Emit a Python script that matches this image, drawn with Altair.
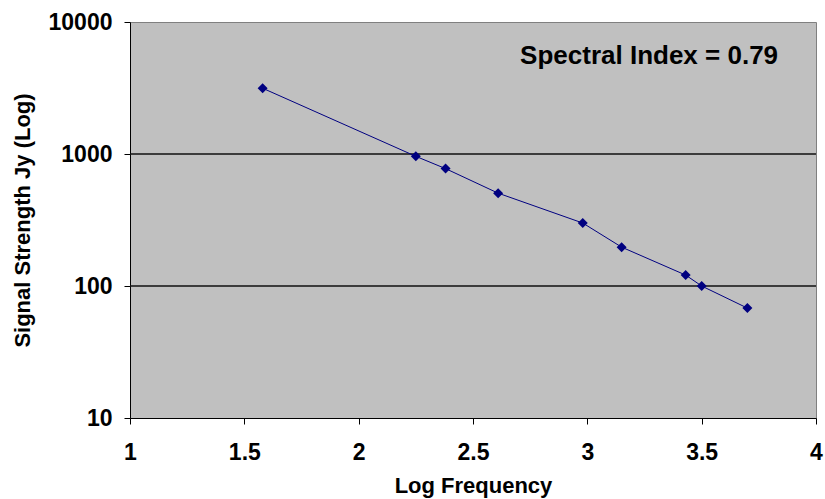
import altair as alt
import pandas as pd

log_freq = [1.58, 2.25, 2.38, 2.61, 2.98, 3.15, 3.43, 3.50, 3.70]
signal_jy = [3150, 960, 775, 505, 300, 197, 121, 100, 68]
grid_values = [100, 1000]
x_ticks = [1, 1.5, 2, 2.5, 3, 3.5, 4]
y_ticks = [10, 100, 1000, 10000]
annotation = "Spectral Index = 0.79"

df = pd.DataFrame({"freq": log_freq, "jy": signal_jy})
grid_df = pd.DataFrame({"g": grid_values})
ann_df = pd.DataFrame({"t": [annotation], "x": [3.27], "y": [5500]})

FONT = "Liberation Sans"
NAVY = "#000080"

xscale = alt.Scale(domain=[1, 4], nice=False, zero=False)
yscale = alt.Scale(type="log", domain=[10, 10000], nice=False)

base = alt.Chart(df)

grid = alt.Chart(grid_df).mark_rule(color="#111111", strokeWidth=1.5).encode(
    y=alt.Y("g:Q", scale=yscale)
)

line = base.mark_line(color=NAVY, strokeWidth=1).encode(
    x=alt.X(
        "freq:Q",
        scale=xscale,
        axis=alt.Axis(
            title="Log Frequency",
            values=x_ticks,
            format="~g",
            grid=False,
            labelFlush=False,
            tickSize=6,
            tickColor="black",
            domainColor="black",
            labelFont=FONT,
            labelFontSize=23,
            labelFontWeight="bold",
            labelColor="black",
            labelPadding=17,
            titleFont=FONT,
            titleFontSize=22,
            titleFontWeight="bold",
            titleColor="black",
            titlePadding=11,
        ),
    ),
    y=alt.Y(
        "jy:Q",
        scale=yscale,
        axis=alt.Axis(
            title="Signal Strength Jy (Log)",
            values=y_ticks,
            format="d",
            grid=False,
            tickSize=6,
            tickColor="black",
            domainColor="black",
            labelFont=FONT,
            labelFontSize=23,
            labelFontWeight="bold",
            labelColor="black",
            labelPadding=12,
            titleFont=FONT,
            titleFontSize=22,
            titleFontWeight="bold",
            titleColor="black",
            titleBaseline="middle",
            titleX=-108,
            titleY=198,
        ),
    ),
)

points = base.mark_point(
    shape="diamond", filled=True, color=NAVY, size=100, opacity=1
).encode(x=alt.X("freq:Q", scale=xscale), y=alt.Y("jy:Q", scale=yscale))

text = alt.Chart(ann_df).mark_text(
    font=FONT, fontSize=26, fontWeight="bold", color="black", align="center",
    baseline="middle"
).encode(
    x=alt.X("x:Q", scale=xscale),
    y=alt.Y("y:Q", scale=yscale),
    text="t:N",
)

chart = (
    alt.layer(grid, line, points, text)
    .properties(
        width=686,
        height=396,
        autosize="none",
        padding={"left": 130, "top": 22, "right": 9, "bottom": 81},
        background="white",
    )
    .configure_view(fill="#C0C0C0", stroke="#808080", strokeWidth=1)
)

chart.save("out.html", embed_options={"renderer": "svg", "actions": False})
